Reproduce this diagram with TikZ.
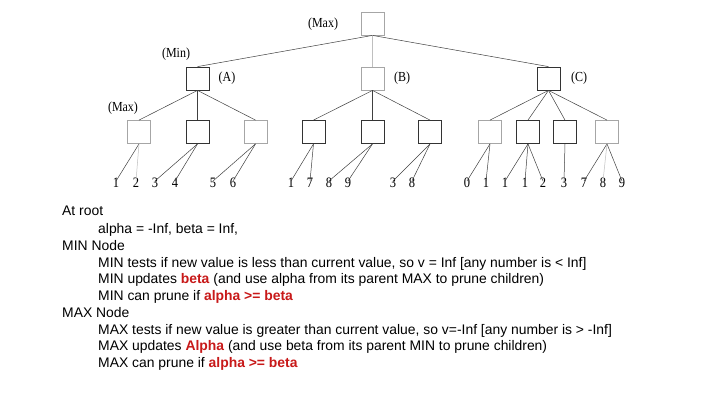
\documentclass[tikz,border=0pt]{standalone}
\usepackage{fontspec}
\setmainfont{Liberation Serif}
\newfontfamily\arialf{Liberation Sans}
\definecolor{redtxt}{RGB}{200,25,25}
\newcommand{\vs}[1]{\scalebox{1}[1.15]{#1}}
\newcommand{\hl}[1]{\textcolor{redtxt}{\textbf{#1}}}
\begin{document}
\begin{tikzpicture}[x=1pt,y=-1pt,
  lbox/.style={draw=black!35, line width=0.8pt, minimum size=23pt, inner sep=0pt, fill=white},
  dbox/.style={draw=black!80, line width=0.8pt, minimum size=23pt, inner sep=0pt, fill=white},
  edge/.style={draw=black!75, line width=0.5pt},
  fedge/.style={draw=black!25, line width=0.5pt},
  lbl/.style={font=\fontsize{12}{14}\selectfont, inner sep=0pt},
  num/.style={font=\fontsize{12.5}{14}\selectfont, inner sep=0pt},
  txt/.style={font=\arialf\fontsize{13.9}{16}\selectfont, anchor=base west, inner sep=0pt}
]
\useasboundingbox[fill=white] (0,0) rectangle (720,405);

% tree boxes
\node[lbox] (R) at (372.5,23.5) {};
\node[dbox] (A) at (197.5,78.5) {};
\node[lbox] (B) at (372.5,78.5) {};
\node[dbox] (C) at (548.5,78.5) {};

\node[lbox] (A1) at (139,132) {};
\node[dbox] (A2) at (197.5,132) {};
\node[lbox] (A3) at (255.5,132) {};
\node[dbox] (B1) at (313.5,132) {};
\node[dbox] (B2) at (372.5,132) {};
\node[dbox] (B3) at (430,132) {};
\node[lbox] (C1) at (490,132) {};
\node[dbox] (C2) at (528,132) {};
\node[dbox] (C3) at (565,132) {};
\node[lbox] (C4) at (607,132) {};

% labels
\node[lbl] (lmax) at (323,24) {\vs{(Max)}};
\node[lbl] (lmin) at (176,54) {\vs{(Min)}};
\node[lbl] (lmax2) at (123,108) {\vs{(Max)}};
\node[lbl] (la) at (227,78) {\vs{(A)}};
\node[lbl] (lb) at (402,78) {\vs{(B)}};
\node[lbl] (lc) at (579,78) {\vs{(C)}};

% leaves
\node[num] (a11) at (116,183) {\vs{1}};
\node[num] (a12) at (136,183) {\vs{2}};
\node[num] (a21) at (155,183) {\vs{3}};
\node[num] (a22) at (175,183) {\vs{4}};
\node[num] (a31) at (213,183) {\vs{5}};
\node[num] (a32) at (233,183) {\vs{6}};
\node[num] (b11) at (291,183) {\vs{1}};
\node[num] (b12) at (310,183) {\vs{7}};
\node[num] (b21) at (329,183) {\vs{8}};
\node[num] (b22) at (348,183) {\vs{9}};
\node[num] (b31) at (393,183) {\vs{3}};
\node[num] (b32) at (412,183) {\vs{8}};
\node[num] (c11) at (467,183) {\vs{0}};
\node[num] (c12) at (486,183) {\vs{1}};
\node[num] (c21) at (505,183) {\vs{1}};
\node[num] (c22) at (525,183) {\vs{1}};
\node[num] (c23) at (543,183) {\vs{2}};
\node[num] (c31) at (564,183) {\vs{3}};
\node[num] (c41) at (584,183) {\vs{7}};
\node[num] (c42) at (603,183) {\vs{8}};
\node[num] (c43) at (622,183) {\vs{9}};

% edges
\draw[edge] (R.south) -- (A.north);
\draw[fedge] (R.south) -- (B.north);
\draw[edge] (R.south) -- (C.north);
\foreach \p/\c in {A/A1,A/A2,A/A3,B/B1,B/B2,B/B3,C/C1,C/C2,C/C3,C/C4}
  \draw[edge] (\p.south) -- (\c.north);
\foreach \p/\c in {A1/a11,A2/a21,A2/a22,A3/a31,A3/a32,B1/b11,B1/b12,B2/b21,B2/b22,B3/b31,B3/b32,C1/c11,C1/c12,C2/c21,C2/c22,C2/c23,C3/c31,C4/c41,C4/c43}
  \draw[edge] (\p.south) -- ([yshift=-3pt]\c.north);
\draw[fedge] (A1.south) -- ([yshift=-3pt]a12.north);
\draw[fedge] (C4.south) -- ([yshift=-3pt]c42.north);

% text
\node[txt] (t1) at (62,215) {At root};
\node[txt] (t2) at (98,233) {alpha = -Inf, beta = Inf,};
\node[txt] (t3) at (62,250) {MIN Node};
\node[txt] (t4) at (98,267) {MIN tests if new value is less than current value, so v = Inf [any number is < Inf]};
\node[txt] (t5) at (98,283) {MIN updates \hl{beta} (and use alpha from its parent MAX to prune children)};
\node[txt] (t6) at (98,300) {MIN can prune if \hl{alpha >= beta}};
\node[txt] (t7) at (62,317) {MAX Node};
\node[txt] (t8) at (98,334) {MAX tests if new value is greater than current value, so v=-Inf [any number is > -Inf]};
\node[txt] (t9) at (98,350) {MAX updates \hl{Alpha} (and use beta from its parent MIN to prune children)};
\node[txt] (t10) at (98,367) {MAX can prune if \hl{alpha >= beta}};
\end{tikzpicture}
\end{document}
